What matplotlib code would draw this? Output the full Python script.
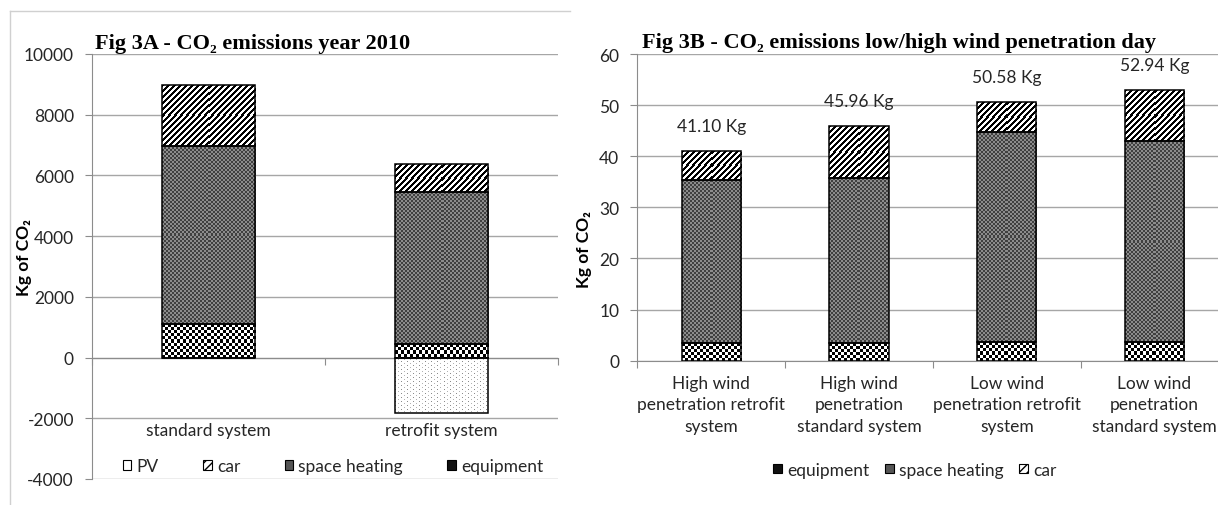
import numpy as np
import matplotlib
matplotlib.use("Agg")
import matplotlib.pyplot as plt
from matplotlib.patches import Patch
from matplotlib.lines import Line2D

plt.rcParams['font.family'] = ['Lato', 'DejaVu Sans']
plt.rcParams['axes.unicode_minus'] = False

# Fig 3A - yearly emissions (kg CO2)
systems_a = ["standard system", "retrofit system"]
pv_a = [0, -1840]
equipment_a = [1090, 440]
heating_a = [5880, 5000]
car_a = [2010, 930]

# Fig 3B - daily emissions (kg CO2)
days_b = ["High wind\npenetration retrofit\nsystem",
          "High wind\npenetration\nstandard system",
          "Low wind\npenetration retrofit\nsystem",
          "Low wind\npenetration\nstandard system"]
equipment_b = [3.5, 3.5, 3.6, 3.6]
heating_b = [31.85, 32.25, 41.1, 39.33]
car_b = [5.75, 10.21, 5.88, 10.01]

W, H = 1218, 506
GRID = '#a6a6a6'
AXC = '#8c8c8c'
TXT = '#262626'
SERIF = ['Liberation Serif', 'DejaVu Serif']
FS = 12.5

# pixel tiles used to fill the bars (0 = black, 1 = white)
ii, jj = np.indices((6, 6))
TILE_EQUIP = ((ii // 3 + jj // 3) % 2).astype(float)
TILE_CAR = np.where((ii + jj) % 6 < 3, 0.0, 1.0)
ii, jj = np.indices((4, 4))
TILE_HEAT = np.where((ii // 2 + jj // 2) % 2 == 0, 0.25, 0.55)
TILE_PV = np.ones((4, 6))
TILE_PV[0, 0] = 0.55
TILE_PV[2, 3] = 0.7


def texture(ax, bars, tile):
    for rect in bars:
        x, w = rect.get_x(), rect.get_width()
        y0 = min(rect.get_y(), rect.get_y() + rect.get_height())
        y1 = max(rect.get_y(), rect.get_y() + rect.get_height())
        if y1 - y0 <= 0:
            continue
        (px0, py0), (px1, py1) = ax.transData.transform([(x, y0), (x + w, y1)])
        nx = max(1, int(round(px1 - px0)))
        ny = max(1, int(round(py1 - py0)))
        reps = (ny // tile.shape[0] + 1, nx // tile.shape[1] + 1)
        img = np.tile(tile, reps)[:ny, :nx]
        im = ax.imshow(img, cmap='gray', vmin=0, vmax=1, extent=(x, x + w, y0, y1),
                       interpolation='nearest', aspect='auto', zorder=2)
        im.set_clip_path(rect)


def style_axes(ax, ncat):
    for s in ['top', 'right']:
        ax.spines[s].set_visible(False)
    ax.spines['left'].set_color(AXC)
    ax.spines['bottom'].set_color(AXC)
    ax.set_axisbelow(True)
    ax.yaxis.grid(True, color=GRID, lw=1)
    ax.set_xticks(np.arange(ncat + 1) - 0.5)
    ax.tick_params(axis='x', length=5, color=AXC, labelbottom=False)
    ax.tick_params(axis='y', length=5, color=AXC, pad=8, labelsize=FS, labelcolor=TXT)
    ax.set_xlim(-0.5, ncat - 0.5)


def stacked(ax, series, tiles):
    x = np.arange(len(series[0]))
    bottom = np.zeros(len(x))
    out = []
    for vals, tile in zip(series, tiles):
        bars = ax.bar(x, vals, 0.4, bottom=bottom, facecolor='none', edgecolor='black',
                      linewidth=1.1, zorder=3)
        out.append((bars, tile))
        bottom = bottom + np.array(vals)
    return out


fig = plt.figure(figsize=(W / 100, H / 100), dpi=100)

# frame around the left chart
fig.add_artist(Line2D([10 / W, 570 / W], [1 - 12 / H, 1 - 12 / H], color='#d0d0d0', lw=1))
fig.add_artist(Line2D([10 / W, 10 / W], [0, 1 - 12 / H], color='#d0d0d0', lw=1))

# ---- Fig 3A ----
axA = fig.add_axes([92 / W, 1 - 480 / H, (557.7 - 92) / W, (480 - 55) / H])
style_axes(axA, len(systems_a))
axA.set_ylim(-4000, 10000)
axA.set_yticks(np.arange(-4000, 10001, 2000))
axA.spines['bottom'].set_position(('data', 0))
layers = stacked(axA, [equipment_a, heating_a, car_a], [TILE_EQUIP, TILE_HEAT, TILE_CAR])
pvbars = axA.bar(np.arange(len(pv_a)), pv_a, 0.4, facecolor='none', edgecolor='black',
                 linewidth=1.1, zorder=3)
layers.append((pvbars, TILE_PV))
for bars, tile in layers:
    texture(axA, bars, tile)
axA.set_xlim(-0.5, len(systems_a) - 0.5)
axA.set_ylim(-4000, 10000)

for i, lab in enumerate(systems_a):
    axA.annotate(lab, xy=(i, 0.134), xycoords=('data', 'axes fraction'),
                 ha='center', va='top', fontsize=FS, color=TXT)

axA.set_ylabel('Kg of CO₂', fontsize=FS, fontweight='bold', color='black')
axA.yaxis.set_label_coords(-0.129, 0.524)

fig.text(95 / W, 1 - 49 / H, 'Fig 3A - CO₂ emissions year 2010', family=SERIF,
         fontweight='bold', fontsize=16, va='baseline')

hA = [Patch(facecolor='white', edgecolor='black', lw=0.8),
      Patch(facecolor='white', edgecolor='black', hatch='////', lw=0.8),
      Patch(facecolor='#555555', edgecolor='black', lw=0.8),
      Patch(facecolor='#111111', edgecolor='black', lw=0.8)]
axA.legend(hA, ['PV', 'car', 'space heating', 'equipment'], ncol=4, frameon=False,
           loc='center', bbox_to_anchor=(0.5175, 0.031), fontsize=FS,
           handlelength=0.5, handleheight=0.5, handletextpad=0.3,
           columnspacing=2.55, borderpad=0, labelcolor=TXT)

# ---- Fig 3B ----
axB = fig.add_axes([637.3 / W, 1 - 361.7 / H, (1228.4 - 637.3) / W, (361.7 - 55) / H])
style_axes(axB, len(days_b))
axB.set_ylim(0, 60)
axB.set_yticks(np.arange(0, 61, 10))
for bars, tile in stacked(axB, [equipment_b, heating_b, car_b], [TILE_EQUIP, TILE_HEAT, TILE_CAR]):
    texture(axB, bars, tile)
axB.set_xlim(-0.5, len(days_b) - 0.5)
axB.set_ylim(0, 60)

totals_b = np.array(equipment_b) + np.array(heating_b) + np.array(car_b)
for i, t in enumerate(totals_b):
    axB.annotate(f'{t:.2f} Kg', xy=(i, t), xytext=(0, 18), textcoords='offset points',
                 ha='center', va='center', fontsize=FS, color=TXT)

for i, lab in enumerate(days_b):
    axB.annotate(lab, xy=(i, 0), xycoords=('data', 'axes fraction'), xytext=(0, -10),
                 textcoords='offset points', ha='center', va='top', fontsize=FS,
                 color=TXT, linespacing=1.45)

axB.set_ylabel('Kg of CO₂', fontsize=FS, fontweight='bold', color='black')
axB.yaxis.set_label_coords(-0.0766, 0.364)

fig.text(641.7 / W, 1 - 48 / H, 'Fig 3B - CO₂ emissions low/high wind penetration day',
         family=SERIF, fontweight='bold', fontsize=16, va='baseline')

hB = [hA[3], hA[2], hA[1]]
axB.legend(hB, ['equipment', 'space heating', 'car'], ncol=3, frameon=False,
           loc='center', bbox_to_anchor=(0.4698, -0.3554), fontsize=FS,
           handlelength=0.5, handleheight=0.5, handletextpad=0.3,
           columnspacing=0.9, borderpad=0, labelcolor=TXT)

fig.savefig('out.png', dpi=100)
